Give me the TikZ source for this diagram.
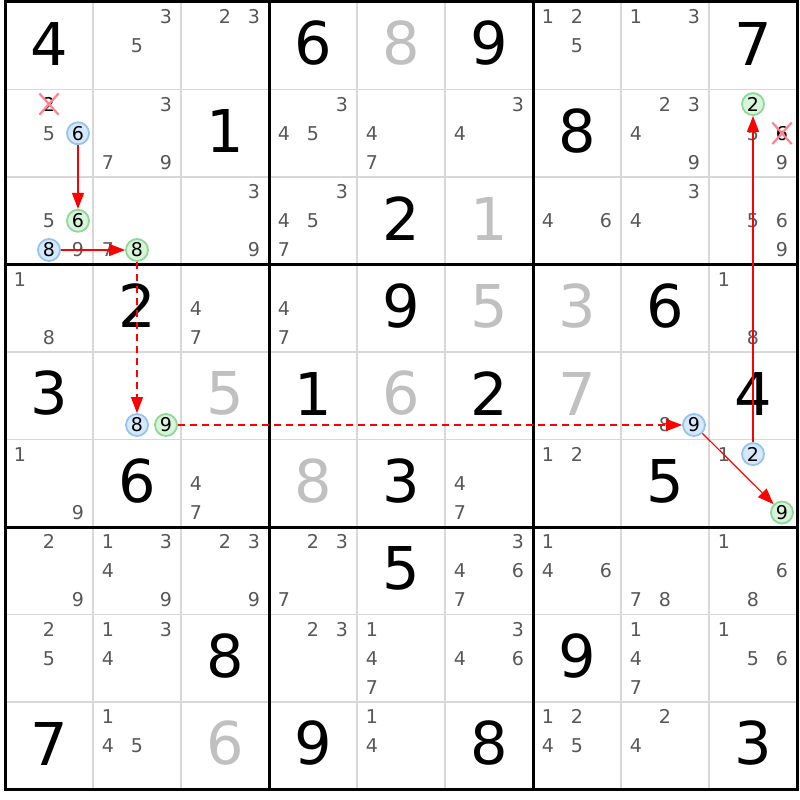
\documentclass[tikz,border=0pt]{standalone}
\usepackage{fontspec}
\setmainfont{DejaVu Sans}
\usetikzlibrary{arrows.meta,shapes.misc}
\definecolor{candgray}{RGB}{88,88,88}
\definecolor{placedgray}{RGB}{192,192,192}
\definecolor{gridgray}{RGB}{216,216,216}
\definecolor{linkblue}{RGB}{150,196,240}
\definecolor{fillblue}{RGB}{214,232,252}
\definecolor{linkgreen}{RGB}{140,218,150}
\definecolor{fillgreen}{RGB}{216,244,218}
\definecolor{crosspink}{RGB}{255,130,140}
\definecolor{chainred}{RGB}{255,0,0}

\begin{document}
\begin{tikzpicture}[x=1pt,y=-1pt,
  given/.style={font=\fontsize{59}{59}\selectfont,inner sep=0pt},
  placed/.style={given,text=placedgray},
  cand/.style={font=\fontsize{19}{19}\selectfont,text=candgray,inner sep=0pt},
  bluecand/.style={cand,text=black,circle,draw=linkblue,fill=fillblue,line width=1.8pt,minimum size=22pt},
  greencand/.style={bluecand,draw=linkgreen,fill=fillgreen},
  crossed/.style={cand,text=black,cross out,draw=crosspink,line width=2.2pt,inner sep=2.5pt},
  strong/.style={-{Triangle[length=16pt,width=12pt]},chainred,line width=1.2pt},
  weak/.style={strong,dash pattern=on 7pt off 5pt}]
\useasboundingbox (0,0) rectangle (800,800);
\fill[white] (0,0) rectangle (800,800);

\foreach \i in {1,2,4,5,7,8} {
  \draw[gridgray,line width=1.6pt] ({5+88*\i},2) -- ({5+88*\i},789.5);
  \draw[gridgray,line width=1.6pt] (5,{2+87.5*\i}) -- (797,{2+87.5*\i});
}
\foreach \i in {3,6} {
  \draw[line width=3pt] ({5+88*\i},2) -- ({5+88*\i},789.5);
  \draw[line width=3pt] (5,{2+87.5*\i}) -- (797,{2+87.5*\i});
}
\draw[line width=3pt] (5,2) rectangle (797,789.5);

\foreach \row/\col/\v in {1/1/4,1/4/6,1/6/9,1/9/7,2/3/1,2/7/8,3/5/2,4/2/2,4/5/9,4/8/6,
    5/1/3,5/4/1,5/6/2,5/9/4,6/2/6,6/5/3,6/8/5,7/5/5,8/3/8,8/7/9,9/1/7,9/4/9,9/6/8,9/9/3}
  \node[given] (b\row\col) at ({49+88*(\col-1)},{43.5+87.5*(\row-1)}) {\v};
\foreach \row/\col/\v in {1/5/8,3/6/1,4/6/5,4/7/3,5/3/5,5/5/6,5/7/7,6/4/8,9/3/6}
  \node[placed] (b\row\col) at ({49+88*(\col-1)},{43.5+87.5*(\row-1)}) {\v};

\foreach \row/\col/\digs in {1/2/{3,5},1/3/{2,3},1/7/{1,2,5},1/8/{1,3},
    2/1/{5},2/2/{3,7,9},2/4/{3,4,5},2/5/{4,7},2/6/{3,4},2/8/{2,3,4,9},2/9/{5,9},
    3/1/{5,9},3/2/{7},3/3/{3,9},3/4/{3,4,5,7},3/7/{4,6},3/8/{3,4},3/9/{5,6,9},
    4/1/{1,8},4/3/{4,7},4/4/{4,7},4/9/{1,8},5/8/{8},
    6/1/{1,9},6/3/{4,7},6/6/{4,7},6/7/{1,2},6/9/{1},
    7/1/{2,9},7/2/{1,3,4,9},7/3/{2,3,9},7/4/{2,3,7},7/6/{3,4,6,7},7/7/{1,4,6},7/8/{7,8},7/9/{1,6,8},
    8/1/{2,5},8/2/{1,3,4},8/4/{2,3},8/5/{1,4,7},8/6/{3,4,6},8/8/{1,4,7},8/9/{1,5,6},
    9/2/{1,4,5},9/5/{1,4},9/7/{1,2,4,5},9/8/{2,4}} {
  \foreach \dd in \digs
    \node[cand] (r\row c\col d\dd) at ({20+88*(\col-1)+29*mod(\dd-1,3)},{16.6+87.5*(\row-1)+29.2*int((\dd-1)/3)}) {\dd};
}

\node[crossed] (r2c1d2) at (49,104.1) {2};
\node[crossed] (r2c9d6) at (782,133.3) {6};
\node[bluecand] (r2c1d6) at (78,133.3) {6};
\node[greencand] (r3c1d6) at (78,220.8) {6};
\node[bluecand] (r3c1d8) at (49,250) {8};
\node[greencand] (r3c2d8) at (137,250) {8};
\node[bluecand] (r5c2d8) at (137,425) {8};
\node[greencand] (r5c2d9) at (166,425) {9};
\node[bluecand] (r5c8d9) at (694,425) {9};
\node[greencand] (r6c9d9) at (782,512.5) {9};
\node[bluecand] (r6c9d2) at (753,454.1) {2};
\node[greencand] (r2c9d2) at (753,104.1) {2};

\draw[strong] (r2c1d6) -- (r3c1d6);
\draw[strong] (r3c1d8) -- (r3c2d8);
\draw[weak] (r3c2d8) -- (r5c2d8);
\draw[weak] (r5c2d9) -- (r5c8d9);
\draw[strong] (r5c8d9) -- (r6c9d9);
\draw[strong] (r6c9d2) -- (r2c9d2);
\end{tikzpicture}
\end{document}
